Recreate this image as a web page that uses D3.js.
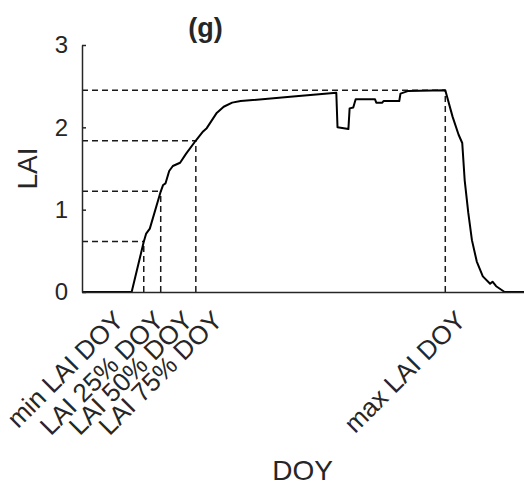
<!DOCTYPE html>
<html>
<head>
<meta charset="utf-8">
<script src="https://cdn.jsdelivr.net/npm/d3@7"></script>
<style>
  html, body { margin: 0; padding: 0; background: #fff; }
  svg { display: block; }
  text { font-family: "Liberation Sans", Arial, Helvetica, sans-serif; fill: #262626; }
</style>
</head>
<body>
<svg id="chart" width="524" height="486"></svg>
<script>
// ---- data ----
const doy = [0, 41, 51, 53, 56, 65, 67, 69, 72, 75, 81, 86, 94, 100, 103, 111, 117, 124, 131, 172, 210,
             211, 220, 221, 224, 226, 242, 243, 248, 249, 262, 263, 269, 300,
             306, 311, 314, 316, 319, 322, 326, 331, 337, 339, 342, 349, 365];
const lai = [0, 0, 0.61, 0.71, 0.77, 1.22, 1.30, 1.32, 1.47, 1.53, 1.57, 1.68, 1.84, 1.95, 1.99, 2.17, 2.25, 2.30, 2.32, 2.37, 2.42,
             2.00, 1.98, 2.23, 2.24, 2.34, 2.34, 2.30, 2.30, 2.32, 2.32, 2.41, 2.44, 2.45,
             2.13, 1.91, 1.81, 1.36, 0.96, 0.63, 0.37, 0.19, 0.10, 0.125, 0.07, 0, 0];

// phenology markers (dashed guides): DOY and LAI level
const markerDOY = [41, 51, 65, 94, 300];
const markerLAI = [0, 0.6125, 1.225, 1.8375, 2.45];

// x tick labels and their DOY positions
const tickLabels = ["min LAI DOY", "LAI 25% DOY", "LAI 50% DOY", "LAI 75% DOY", "max LAI DOY"];
const tickDOY = [30, 63, 87, 111.5, 312.5];

const yTicks = [0, 1, 2, 3];

// ---- chart ----
const svg = d3.select("#chart");
const x = d3.scaleLinear().domain([0, 365]).range([82, 524]);
const y = d3.scaleLinear().domain([0, 3]).range([292, 45]);

// dashed guides
const guides = svg.append("g")
  .attr("stroke", "#1a1a1a").attr("stroke-width", 1.5)
  .attr("stroke-dasharray", "6,4").attr("fill", "none");
markerDOY.forEach((d, i) => {
  if (markerLAI[i] <= 0) return;
  guides.append("line")
    .attr("x1", x(0)).attr("x2", x(d))
    .attr("y1", y(markerLAI[i])).attr("y2", y(markerLAI[i]));
  guides.append("line")
    .attr("x1", x(d)).attr("x2", x(d))
    .attr("y1", y(0)).attr("y2", y(markerLAI[i]));
});

// LAI curve
const pts = doy.map((d, i) => [d, lai[i]]);
svg.append("path")
  .datum(pts)
  .attr("fill", "none").attr("stroke", "#000").attr("stroke-width", 2)
  .attr("stroke-linejoin", "round")
  .attr("d", d3.line().x(d => x(d[0])).y(d => y(d[1])));

// y axis
const yAxis = svg.append("g")
  .attr("transform", `translate(${x(0)},0)`)
  .call(d3.axisLeft(y).tickValues(yTicks).tickFormat(d3.format("d")).tickSizeInner(-4).tickSizeOuter(0).tickPadding(14));
yAxis.select(".domain").attr("stroke", "#262626").attr("stroke-width", 1.5);
yAxis.selectAll(".tick line").attr("stroke", "#262626").attr("stroke-width", 1.5);
yAxis.selectAll(".tick text").attr("font-size", 24).attr("fill", "#262626")
  .style("font-family", '"Liberation Sans", Arial, sans-serif');

// x axis line
const xAxis = svg.append("g")
  .attr("transform", `translate(0,${y(0)})`)
  .call(d3.axisBottom(x).tickValues(tickDOY).tickFormat((d, i) => tickLabels[i]).tickSize(0).tickPadding(0));
xAxis.select(".domain").attr("stroke", "#262626").attr("stroke-width", 1.5);
xAxis.selectAll(".tick text")
  .attr("font-size", 26).attr("fill", "#262626")
  .style("font-family", '"Liberation Sans", Arial, sans-serif')
  .attr("text-anchor", "end")
  .attr("y", 0).attr("dy", "0.35em")
  .attr("transform", "translate(0,23.5) rotate(-45)");

// title
svg.append("text").attr("x", 205.5).attr("y", 36.5).attr("text-anchor", "middle")
  .attr("font-size", 27).attr("font-weight", "bold").text("(g)");

// y label
svg.append("text").attr("transform", "translate(37,168.5) rotate(-90)")
  .attr("text-anchor", "middle").attr("font-size", 28).text("LAI");

// x label
svg.append("text").attr("x", 302.5).attr("y", 480).attr("text-anchor", "middle")
  .attr("font-size", 28).text("DOY");
</script>
</body>
</html>
